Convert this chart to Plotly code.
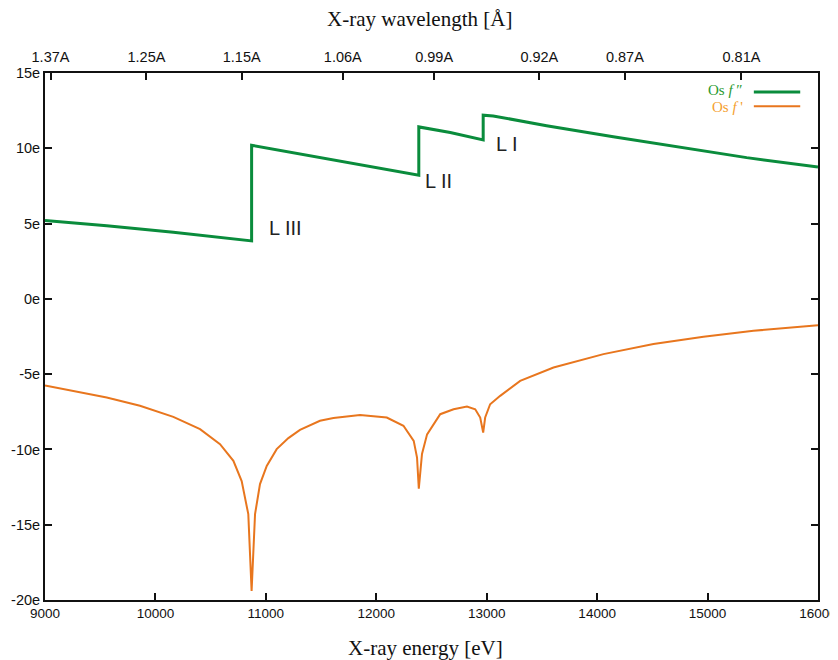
import plotly.graph_objects as go

# f'' (imaginary part) — Os, electrons
energy_fpp = [9000, 9559, 10162, 10796, 10871, 10871, 11309, 11762, 12306, 12385,
              12385, 12670, 12968, 12968, 13059, 13542, 14146, 14750, 15354, 16000]
fpp = [5.2, 4.85, 4.42, 3.9, 3.85, 10.2, 9.62, 9.0, 8.3, 8.21,
       11.42, 11.05, 10.56, 12.2, 12.15, 11.5, 10.76, 10.05, 9.38, 8.75]

# f' (real part)
energy_fp = [9000, 9256, 9559, 9860, 10162, 10404, 10585, 10706, 10781, 10841, 10871,
             10902, 10947, 11008, 11098, 11204, 11309, 11490, 11612, 11853, 12095,
             12246, 12339, 12369, 12385, 12414, 12460, 12579, 12700, 12821, 12896,
             12941, 12968, 12986, 13031, 13122, 13303, 13605, 14057, 14510, 14963,
             15416, 16000]
fp = [-5.75, -6.1, -6.55, -7.1, -7.84, -8.65, -9.65, -10.76, -12.1, -14.3, -19.4,
      -14.3, -12.3, -11.1, -9.98, -9.25, -8.7, -8.1, -7.92, -7.72, -7.88,
      -8.43, -9.43, -10.54, -12.6, -10.3, -9.0, -7.66, -7.33, -7.15, -7.33,
      -7.88, -8.88, -7.88, -7.0, -6.44, -5.45, -4.56, -3.67, -3.0, -2.52,
      -2.12, -1.75]

# Edge labels
edge_names = ["L III", "L II", "L I"]
edge_label_x = [11174, 12560, 13185]
edge_label_y = [4.7, 7.8, 10.3]

# Tick labels
y_ticks = [-20, -15, -10, -5, 0, 5, 10, 15]
y_tick_text = ["-20e", "-15e", "-10e", "-5e", "0e", "5e", "10e", "15e"]
x_ticks = [9000, 10000, 11000, 12000, 13000, 14000, 15000, 16000]
x_tick_text = ["9000", "10000", "11000", "12000", "13000", "14000", "15000", "16000"]
wavelengths = [1.37, 1.25, 1.15, 1.06, 0.99, 0.92, 0.87, 0.81]
HC = 12398.42

GREEN = "#0a8c3c"
ORANGE = "#e8761e"

fig = go.Figure()
fig.add_trace(go.Scatter(x=energy_fpp, y=fpp, mode="lines",
                         line=dict(color=GREEN, width=3), showlegend=False))
fig.add_trace(go.Scatter(x=energy_fp, y=fp, mode="lines",
                         line=dict(color=ORANGE, width=2), showlegend=False))
# dummy trace to activate top axis
fig.add_trace(go.Scatter(x=[9000, 16000], y=[None, None], xaxis="x2",
                         showlegend=False, hoverinfo="skip"))

for name, ex, ey in zip(edge_names, edge_label_x, edge_label_y):
    fig.add_annotation(x=ex, y=ey, text=name, showarrow=False,
                       font=dict(family="Liberation Sans, Arial", size=20, color="#222"))

# legend (gnuplot style: text then line sample)
legend_font = "Liberation Serif, Times New Roman"
fig.add_annotation(xref="paper", yref="paper", x=0.906, y=0.967, xanchor="right",
                   yanchor="middle", text="Os <i>f</i> ″", showarrow=False,
                   font=dict(family=legend_font, size=15, color="#2a9a30"))
fig.add_annotation(xref="paper", yref="paper", x=0.906, y=0.935, xanchor="right",
                   yanchor="middle", text="Os <i>f</i> '", showarrow=False,
                   font=dict(family=legend_font, size=15, color="#f5a030"))
fig.add_shape(type="line", xref="paper", yref="paper", x0=0.917, x1=0.977,
              y0=0.964, y1=0.964, line=dict(color=GREEN, width=3))
fig.add_shape(type="line", xref="paper", yref="paper", x0=0.917, x1=0.977,
              y0=0.937, y1=0.937, line=dict(color=ORANGE, width=2))

# axis titles
titlefont = dict(family="Liberation Serif, Times New Roman", size=21, color="#111")
fig.add_annotation(xref="paper", yref="paper", x=0.485, y=1.103, text="X-ray wavelength [Å]",
                   showarrow=False, font=titlefont, yanchor="middle")
fig.add_annotation(xref="paper", yref="paper", x=0.492, y=-0.091, text="X-ray energy [eV]",
                   showarrow=False, font=titlefont, yanchor="middle")

tickfont = dict(family="Liberation Sans, Arial", size=14.5, color="#111")
xtickfont = dict(family="Liberation Sans, Arial", size=13.5, color="#111")

# page body has an 8px margin, so the figure is sized/offset to compensate
fig.update_layout(
    width=830, height=652,
    margin=dict(l=37, r=20, t=65, b=60),
    plot_bgcolor="white", paper_bgcolor="white",
    xaxis=dict(range=[9000, 16000], tickvals=x_ticks, ticktext=x_tick_text,
               ticks="inside", ticklen=7,
               tickwidth=1.5, tickcolor="#111", showline=True, linecolor="#111",
               linewidth=2, mirror=True, showgrid=False, zeroline=False,
               tickfont=xtickfont, automargin=False, ticklabeloverflow="allow"),
    xaxis2=dict(range=[9000, 16000], overlaying="x", side="top",
                tickvals=[HC / w for w in wavelengths],
                ticktext=[f"{w:.2f}A" for w in wavelengths],
                ticks="inside", ticklen=7, tickwidth=1.5, tickcolor="#111",
                showgrid=False, zeroline=False, tickfont=tickfont,
                ticklabelstandoff=7, automargin=False),
    yaxis=dict(range=[-20, 15], tickvals=y_ticks, ticktext=y_tick_text,
               ticks="inside", ticklen=7, tickwidth=1.5, tickcolor="#111",
               showline=True, linecolor="#111", linewidth=2, mirror="ticks",
               showgrid=False, zeroline=False, tickfont=tickfont, automargin=False),
)

fig.write_html("out.html")
